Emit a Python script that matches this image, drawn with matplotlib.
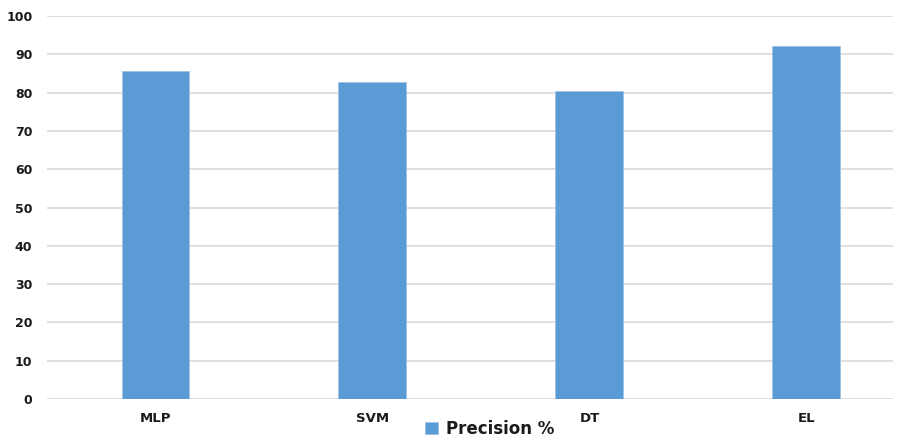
import matplotlib
matplotlib.use('Agg')
import matplotlib.pyplot as plt
import numpy as np

# data
models = ['MLP', 'SVM', 'DT', 'EL']
precision = [85.8, 82.7, 80.4, 92.2]
yticks = list(range(0, 101, 10))

fig = plt.figure(figsize=(9.04, 4.38), dpi=100)
ax = fig.add_axes([0.052, 0.089, 0.936, 0.874])

x = np.arange(len(models))
ax.bar(x, precision, width=0.313, color='#5B9BD5', edgecolor='#9DC3E6',
       linewidth=0.6, label='Precision %', zorder=3)

# category area runs a bit past the right edge in the original
ax.set_xlim(-0.5, 3.4)
ax.set_ylim(0, 100)
ax.set_yticks(yticks)
ax.set_xticks(x)
ax.set_xticklabels(models)
ax.grid(axis='y', color='#D9D9D9', linewidth=1.2, zorder=0)
for s in ax.spines.values():
    s.set_visible(False)
ax.tick_params(length=0, labelsize=9.5, labelcolor='#1a1a1a')
ax.tick_params(axis='x', pad=9)
ax.tick_params(axis='y', labelsize=9, pad=10.5)
for lbl in ax.get_xticklabels() + ax.get_yticklabels():
    lbl.set_fontweight('bold')

fig.legend(loc='center', bbox_to_anchor=(490 / 904, 1 - 429 / 438), frameon=False,
           handlelength=0.75, handleheight=0.75, handletextpad=0.5,
           prop={'size': 12, 'weight': 'bold'}, labelcolor='#1a1a1a')

fig.savefig('out.png', dpi=100)
